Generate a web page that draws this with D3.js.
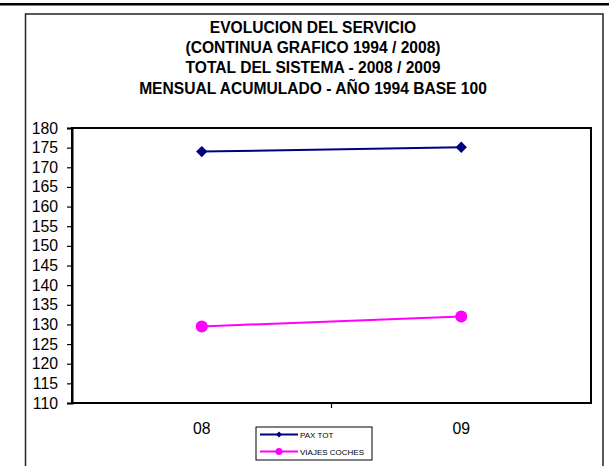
<!DOCTYPE html>
<html>
<head>
<meta charset="utf-8">
<script src="https://cdn.jsdelivr.net/npm/d3@7"></script>
<style>
body { margin: 0; background: #fff; }
svg { display: block; font-family: "Liberation Sans", Arial, sans-serif; }
</style>
</head>
<body>
<svg width="609" height="466"></svg>
<script>
// Data
var categories = ["08", "09"];
var paxTot = [174.0, 175.1];
var viajesCoches = [129.5, 132.0];
var seriesNames = ["PAX TOT", "VIAJES COCHES"];
var titleLines = [
	"EVOLUCION DEL SERVICIO",
	"(CONTINUA GRAFICO 1994 / 2008)",
	"TOTAL DEL SISTEMA - 2008 / 2009",
	"MENSUAL ACUMULADO - AÑO 1994 BASE 100"
];
var yTicks = d3.range(110, 181, 5);

var svg = d3.select("svg");

// top rule + chart frame
svg.append("rect").attr("x", 0).attr("y", 3).attr("width", 609).attr("height", 2.5).attr("fill", "#000");
svg.append("rect")
	.attr("x", 25.5).attr("y", 14)
	.attr("width", 577.5).attr("height", 470)
	.attr("fill", "#fff").attr("stroke", "#222").attr("stroke-width", 1.5);

// Title
svg.append("g").selectAll("text")
	.data(titleLines)
	.enter().append("text")
	.attr("x", 313)
	.attr("y", (d, i) => 33 + i * 20.2)
	.attr("text-anchor", "middle")
	.attr("font-size", 15.6)
	.attr("font-weight", "bold")
	.text((d) => d);

// Plot area
var plotL = 72, plotR = 591, plotT = 128, plotB = 403;

var x = d3.scaleBand().domain(categories).range([plotL, plotR]);
var y = d3.scaleLinear().domain([110, 180]).range([plotB, plotT]);

svg.append("rect")
	.attr("x", plotL).attr("y", plotT)
	.attr("width", plotR - plotL).attr("height", plotB - plotT)
	.attr("fill", "none").attr("stroke", "#000").attr("stroke-width", 2);

// Y axis
var yAxis = svg.append("g")
	.attr("transform", "translate(" + plotL + ",0)")
	.call(d3.axisLeft(y).tickValues(yTicks).tickSize(5).tickPadding(9));
yAxis.select(".domain").attr("stroke-width", 2);
yAxis.selectAll(".tick line").attr("stroke-width", 1.2);
yAxis.selectAll("text").attr("font-size", 15.8).attr("font-family", "Liberation Sans, Arial, sans-serif").attr("fill", "#000");

// X axis (tick between the two categories)
var xAxis = svg.append("g")
	.attr("transform", "translate(0," + plotB + ")");
xAxis.selectAll("line")
	.data([x("09")])
	.enter().append("line")
	.attr("x1", (d) => d).attr("x2", (d) => d)
	.attr("y1", 0).attr("y2", 5)
	.attr("stroke", "#000").attr("stroke-width", 1.2);
xAxis.selectAll("text")
	.data(categories)
	.enter().append("text")
	.attr("x", (d) => x(d) + x.bandwidth() / 2)
	.attr("y", 31)
	.attr("text-anchor", "middle")
	.attr("font-size", 15.8)
	.text((d) => d);

// Series
var line = d3.line()
	.x((d, i) => x(categories[i]) + x.bandwidth() / 2)
	.y((d) => y(d));

svg.append("path").datum(paxTot)
	.attr("d", line).attr("fill", "none")
	.attr("stroke", "#000080").attr("stroke-width", 2);
svg.append("path").datum(viajesCoches)
	.attr("d", line).attr("fill", "none")
	.attr("stroke", "#ff00ff").attr("stroke-width", 2);

var diamond = d3.symbol().type(d3.symbolSquare).size(64);
svg.append("g").selectAll("path")
	.data(paxTot)
	.enter().append("path")
	.attr("d", diamond)
	.attr("transform", (d, i) => "translate(" + (x(categories[i]) + x.bandwidth() / 2) + "," + y(d) + ") rotate(45)")
	.attr("fill", "#000080");

svg.append("g").selectAll("circle")
	.data(viajesCoches)
	.enter().append("circle")
	.attr("cx", (d, i) => x(categories[i]) + x.bandwidth() / 2)
	.attr("cy", (d) => y(d))
	.attr("r", 6)
	.attr("fill", "#ff00ff");

// Legend
var legend = svg.append("g").attr("transform", "translate(256,427)");
legend.append("rect")
	.attr("width", 116).attr("height", 33)
	.attr("fill", "#fff").attr("stroke", "#000").attr("stroke-width", 1);

var colors = ["#000080", "#ff00ff"];
var item = legend.selectAll(".item")
	.data(seriesNames)
	.enter().append("g")
	.attr("transform", (d, i) => "translate(0," + (7.5 + i * 17) + ")");
item.append("line")
	.attr("x1", 4).attr("x2", 42)
	.attr("stroke", (d, i) => colors[i]).attr("stroke-width", 2);
item.each(function (d, i) {
	var g = d3.select(this);
	if (i == 0) {
		g.append("path")
			.attr("d", d3.symbol().type(d3.symbolSquare).size(18))
			.attr("transform", "translate(23,0) rotate(45)")
			.attr("fill", colors[i]);
	} else {
		g.append("circle").attr("cx", 23).attr("r", 3.5).attr("fill", colors[i]);
	}
});
item.append("text")
	.attr("x", 44).attr("y", 3)
	.attr("font-size", 8)
	.text((d) => d);
</script>
</body>
</html>
